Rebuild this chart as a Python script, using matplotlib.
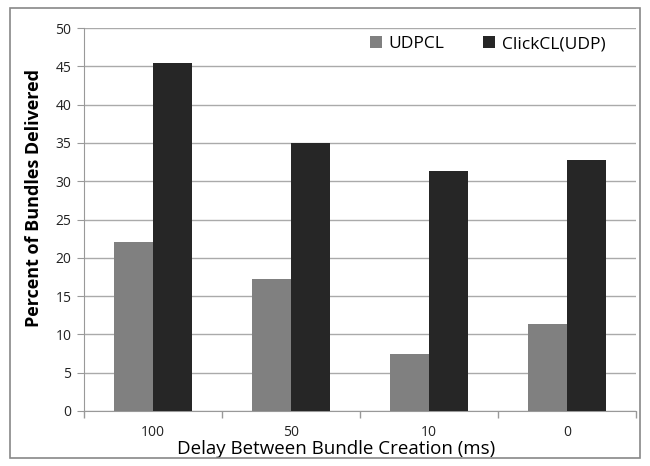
import matplotlib.pyplot as plt
import numpy as np
from matplotlib.patches import Rectangle

categorias = ['100', '50', '10', '0']
udpcl = [22.1, 17.2, 7.4, 11.4]
clickcl = [45.4, 35.0, 31.3, 32.8]
nomes_legenda = ['UDPCL', 'ClickCL(UDP)']
cores = ['#808080', '#262626']

plt.rcParams['font.family'] = ['Open Sans', 'DejaVu Sans']

fig = plt.figure(figsize=(6.5, 4.66), dpi=100)
ax = fig.add_axes([84/650, 1 - 411/466, 552/650, 383/466])

x = np.arange(len(categorias))
largura = 0.286
ax.bar(x - largura/2, udpcl, largura, color=cores[0], label=nomes_legenda[0], zorder=3)
ax.bar(x + largura/2, clickcl, largura, color=cores[1], label=nomes_legenda[1], zorder=3)

ax.set_xlim(-0.5, len(categorias) - 0.5)
ax.set_ylim(0, 50)
ax.set_yticks(range(0, 51, 5))
ax.set_xticks(x)
ax.set_xticklabels(categorias)
ax.set_xticks(np.arange(-0.5, len(categorias), 1), minor=True)
ax.tick_params(axis='x', which='major', length=0, pad=10, labelsize=10, colors='#222222')
ax.tick_params(axis='x', which='minor', length=5, color='#999999', width=1)
ax.tick_params(axis='y', length=5, color='#999999', labelsize=10, labelcolor='#222222', pad=4)

ax.grid(axis='y', color='#aaaaaa', linewidth=1, zorder=0)
for lado in ['top', 'right']:
    ax.spines[lado].set_visible(False)
ax.spines['left'].set_color('#999999')
ax.spines['bottom'].set_color('#999999')

ax.set_ylabel('Percent of Bundles Delivered', fontsize=13, fontweight='bold')
ax.set_xlabel('Delay Between Bundle Creation (ms)', fontsize=13.5)
ax.yaxis.set_label_coords(-0.074, 0.555)
ax.xaxis.set_label_coords(0.457, -0.075)

ax.legend(loc='center right', bbox_to_anchor=(0.945, 0.958), ncol=2, frameon=False,
          fontsize=12.5, handlelength=0.7, handleheight=0.7, handletextpad=0.4,
          columnspacing=2.2, borderpad=0, borderaxespad=0)

fig.patches.append(Rectangle((10/650, 8/466), 630/650, 450/466, transform=fig.transFigure,
                             fill=False, edgecolor='#888888', linewidth=1.2))

fig.savefig('out.png', dpi=100)
